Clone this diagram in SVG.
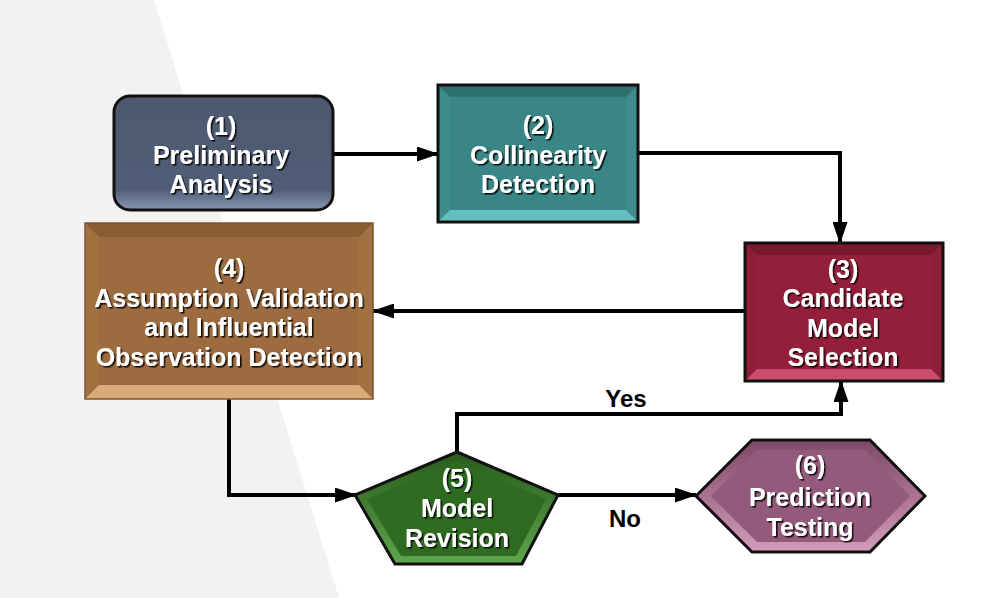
<svg xmlns="http://www.w3.org/2000/svg" width="996" height="598" viewBox="0 0 996 598">
<defs>
<style>
.t{font-family:"Liberation Sans",Arial,sans-serif;font-weight:bold;font-size:25px;fill:#fff;text-anchor:middle;filter:url(#ts)}
.lbl{font-family:"Liberation Sans",Arial,sans-serif;font-weight:bold;font-size:24px;fill:#000;text-anchor:middle}
.c{fill:none;stroke:#000;stroke-width:4;marker-end:url(#ah)}
.edge{stroke:#111;stroke-width:3}
</style>
<filter id="ts" x="-10%" y="-30%" width="130%" height="170%">
<feDropShadow dx="1.6" dy="1.6" stdDeviation="0.7" flood-color="#000" flood-opacity="0.85"/>
</filter>
<marker id="ah" markerUnits="userSpaceOnUse" markerWidth="22" markerHeight="15" viewBox="0 0 22 15" refX="21" refY="7.5" orient="auto">
<path d="M0,0 L22,7.5 L0,15 z" fill="#000"/>
</marker>
<linearGradient id="g1" x1="0" y1="0" x2="0" y2="1">
<stop offset="0" stop-color="#4c5970"/>
<stop offset="0.82" stop-color="#505d76"/>
<stop offset="1" stop-color="#8797b4"/>
</linearGradient>
<linearGradient id="g5" x1="0" y1="0" x2="0" y2="1">
<stop offset="0" stop-color="#285a1c"/>
<stop offset="1" stop-color="#5fa64b"/>
</linearGradient>
<linearGradient id="g6" x1="0" y1="0" x2="0" y2="1">
<stop offset="0" stop-color="#7c4966"/>
<stop offset="1" stop-color="#d49cbb"/>
</linearGradient>
</defs>
<rect width="996" height="598" fill="#fff"/>
<polygon points="0,0 154,0 339,598 0,598" fill="#f2f2f2"/>

<g id="connectors">
<path class="c" d="M334,154 H438"/>
<path class="c" d="M638,153 H840 V243"/>
<path class="c" d="M745,311 H373"/>
<path class="c" d="M229,399 V495 H356"/>
<path class="c" d="M457,452 V414 H841 V381"/>
<path class="c" d="M558,495 H696"/>
<text class="lbl" x="626" y="407">Yes</text>
<text class="lbl" x="625" y="527">No</text>
</g>

<g id="node1">
<rect x="114" y="96" width="219" height="114" rx="16" fill="url(#g1)" stroke="#111" stroke-width="3"/>
<text class="t" x="221" y="135">(1)</text>
<text class="t" x="221" y="164">Preliminary</text>
<text class="t" x="221" y="193">Analysis</text>
</g>

<g id="node2">
<rect x="438" y="85" width="200" height="137" fill="#3f8c8c"/>
<polygon points="438,85 638,85 626,97 450,97" fill="#2f7171"/>
<polygon points="438,222 638,222 626,210 450,210" fill="#62c0c0"/>
<rect x="450" y="97" width="176" height="113" fill="#3a8585"/>
<rect x="438" y="85" width="200" height="137" fill="none" class="edge"/>
<text class="t" x="538" y="134">(2)</text>
<text class="t" x="538" y="164">Collinearity</text>
<text class="t" x="538" y="193">Detection</text>
</g>

<g id="node3">
<rect x="745" y="243" width="198" height="138" fill="#8f1e38"/>
<polygon points="745,243 943,243 931,255 757,255" fill="#7a1830"/>
<polygon points="745,381 943,381 931,369 757,369" fill="#cb4d6d"/>
<rect x="757" y="255" width="174" height="114" fill="#941f3b"/>
<rect x="745" y="243" width="198" height="138" fill="none" class="edge"/>
<text class="t" x="843" y="278">(3)</text>
<text class="t" x="843" y="307">Candidate</text>
<text class="t" x="843" y="337">Model</text>
<text class="t" x="843" y="366">Selection</text>
</g>

<g id="node4">
<rect x="85" y="223" width="288" height="176" fill="#a3713f"/>
<polygon points="85,223 373,223 359,237 99,237" fill="#8b5d35"/>
<polygon points="85,399 373,399 359,385 99,385" fill="#dcaa78"/>
<rect x="99" y="237" width="260" height="148" fill="#9c6c40"/>
<rect x="85" y="223" width="288" height="176" fill="none" stroke="#7a5533" stroke-width="1.5"/>
<text class="t" x="229" y="277">(4)</text>
<text class="t" x="229" y="307">Assumption Validation</text>
<text class="t" x="229" y="336">and Influential</text>
<text class="t" x="229" y="366">Observation Detection</text>
</g>

<g id="node5">
<polygon points="457,452 558,495 522,564 395,564 355,495" fill="url(#g5)"/>
<polygon points="457,461 546,499 516,556 401,556 367,499" fill="#2e6b21"/>
<polygon points="457,452 558,495 522,564 395,564 355,495" fill="none" class="edge"/>
<text class="t" x="457" y="487">(5)</text>
<text class="t" x="457" y="517">Model</text>
<text class="t" x="457" y="547">Revision</text>
</g>

<g id="node6">
<polygon points="696,496 752,440 870,440 925,496 870,552 752,552" fill="url(#g6)"/>
<polygon points="711,496 757,450 865,450 910,496 865,542 757,542" fill="#935a7b"/>
<polygon points="696,496 752,440 870,440 925,496 870,552 752,552" fill="none" class="edge"/>
<text class="t" x="810" y="474">(6)</text>
<text class="t" x="810" y="506">Prediction</text>
<text class="t" x="810" y="536">Testing</text>
</g>
</svg>
